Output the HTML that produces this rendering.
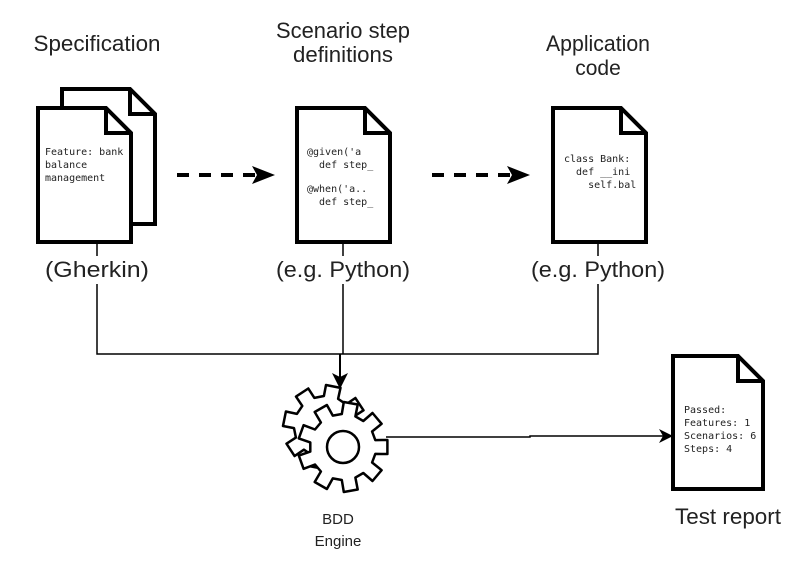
<!DOCTYPE html>
<html><head><meta charset="utf-8"><style>
html,body{margin:0;padding:0;background:#fff;}
svg{display:block;}
text{font-family:"Liberation Sans",sans-serif;fill:#222;}
.m{font-family:"DejaVu Sans Mono","Liberation Mono",monospace;font-size:10px;fill:#222;white-space:pre;}
</style></head><body>
<svg id="s" width="800" height="561" viewBox="0 0 800 561" xmlns="http://www.w3.org/2000/svg" xml:space="preserve">
<defs><marker id="a" markerWidth="16" markerHeight="18" refX="15" refY="8" orient="auto" markerUnits="userSpaceOnUse"><path d="M0,0 L16,8 L0,16 L4,8 Z" fill="#000"/></marker>
<marker id="b" markerWidth="14" markerHeight="14" refX="13" refY="7" orient="auto" markerUnits="userSpaceOnUse"><path d="M0,0 L14,7 L0,14 L4,7 Z" fill="#000"/></marker></defs>
<g fill="#fff" stroke="#000" stroke-width="4" stroke-linejoin="miter">
<path d="M62,89 H130 L155,114 V224 H62 Z"/>
<path d="M130,89 V114 H155" fill="none"/>
<path d="M38,108 H106 L131,133 V242 H38 Z"/>
<path d="M106,108 V133 H131" fill="none"/>
<path d="M297,108 H365 L390,133 V242 H297 Z"/>
<path d="M365,108 V133 H390" fill="none"/>
<path d="M553,108 H621 L646,133 V242 H553 Z"/>
<path d="M621,108 V133 H646" fill="none"/>
<path d="M673,356 H738 L763,381 V489 H673 Z"/>
<path d="M738,356 V381 H763" fill="none"/>
</g>
<g font-size="22" text-anchor="middle">
<text x="97" y="51" textLength="127" lengthAdjust="spacingAndGlyphs">Specification</text>
<text x="343" y="38" textLength="134" lengthAdjust="spacingAndGlyphs">Scenario step</text>
<text x="343" y="62" textLength="100" lengthAdjust="spacingAndGlyphs">definitions</text>
<text x="598" y="51" textLength="104" lengthAdjust="spacingAndGlyphs">Application</text>
<text x="598" y="75" font-size="21">code</text>
<text x="97" y="277" textLength="104" lengthAdjust="spacingAndGlyphs">(Gherkin)</text>
<text x="343" y="277" textLength="134" lengthAdjust="spacingAndGlyphs">(e.g. Python)</text>
<text x="598" y="277" textLength="134" lengthAdjust="spacingAndGlyphs">(e.g. Python)</text>
<text x="728" y="524" textLength="106" lengthAdjust="spacingAndGlyphs">Test report</text>
</g>
<text x="338" y="524" font-size="15" text-anchor="middle">BDD</text>
<text x="338" y="546" font-size="15" text-anchor="middle">Engine</text>
<text class="m" x="45" y="155">Feature: bank</text>
<text class="m" x="45" y="168">balance</text>
<text class="m" x="45" y="181">management</text>
<text class="m" x="307" y="155">@given('a</text>
<text class="m" x="307" y="168">  def step_</text>
<text class="m" x="307" y="192">@when('a..</text>
<text class="m" x="307" y="205">  def step_</text>
<text class="m" x="564" y="162">class Bank:</text>
<text class="m" x="564" y="175">  def __ini</text>
<text class="m" x="564" y="188">    self.bal</text>
<text class="m" x="684" y="413">Passed:</text>
<text class="m" x="684" y="426">Features: 1</text>
<text class="m" x="684" y="439">Scenarios: 6</text>
<text class="m" x="684" y="452">Steps: 4</text>
<g stroke="#000" fill="none" stroke-width="1.5">
<line x1="97" y1="243" x2="97" y2="256"/><line x1="343" y1="243" x2="343" y2="256"/><line x1="598" y1="243" x2="598" y2="256"/>
<path d="M97,284 V354 H598 V284"/>
<line x1="343" y1="284" x2="343" y2="354"/>
<line x1="340" y1="354" x2="340" y2="388" marker-end="url(#a)" stroke-width="2"/>
<path d="M386,437 H530 V436 H672" marker-end="url(#b)"/>
</g>
<g stroke="#000" stroke-width="4" stroke-dasharray="12,10" fill="none">
<line x1="177" y1="175" x2="262" y2="175"/><line x1="432" y1="175" x2="517" y2="175"/>
</g>
<path d="M252,166 L275,175 L252,184 L257,175 Z"/><path d="M507,166 L530,175 L507,184 L512,175 Z"/>
<g id="g" fill="#fff" stroke="#000" stroke-width="2.5" stroke-linejoin="round"></g>
</svg>
<script>
function gear(cx,cy,ro,ri,n,rot){var d="";for(var i=0;i<n;i++){var a=rot+i*2*Math.PI/n,s=Math.PI/n;var pts=[[ri,a-s*0.6],[ro,a-s*0.45],[ro,a+s*0.45],[ri,a+s*0.6]];pts.forEach(function(p,j){var x=cx+p[0]*Math.cos(p[1]),y=cy+p[0]*Math.sin(p[1]);d+=(i==0&&j==0?"M":"L")+x.toFixed(1)+","+y.toFixed(1);});}return d+"Z";}
var g=document.getElementById("g"),ns="http://www.w3.org/2000/svg";
function add(d){var p=document.createElementNS(ns,"path");p.setAttribute("d",d);g.appendChild(p);}
add(gear(325,427,42,31,8,0.2));
add(gear(343,447,45,33,9,0));
var c=document.createElementNS(ns,"circle");c.setAttribute("cx",343);c.setAttribute("cy",447);c.setAttribute("r",16);g.appendChild(c);
</script>
</body></html>
